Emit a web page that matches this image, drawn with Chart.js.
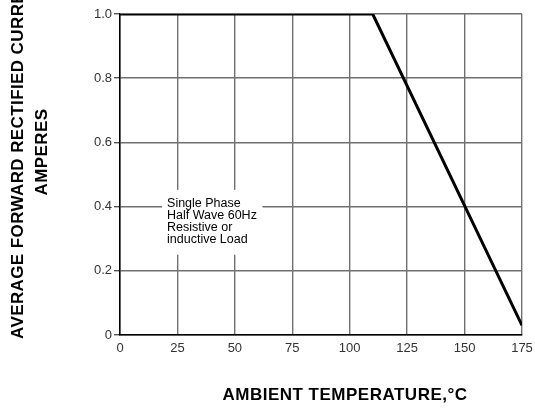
<!DOCTYPE html>
<html>
<head>
<meta charset="utf-8">
<script src="https://cdn.jsdelivr.net/npm/chart.js@4/dist/chart.umd.min.js"></script>
<style>
  html, body { margin: 0; padding: 0; background: #fff; }
  canvas { display: block; }
</style>
</head>
<body>
<canvas id="c" width="535" height="408"></canvas>
<script>
// ---- Data ----
const temperatures = [0, 110, 175];          // Ambient temperature, °C
const currents     = [1.0, 1.0, 0.03];       // Average forward rectified current, A
const xTickLabels  = ['0', '25', '50', '75', '100', '125', '150', '175'];
const yTickLabels  = ['0', '0.2', '0.4', '0.6', '0.8', '1.0'];
const yTitleLines  = ['AVERAGE FORWARD RECTIFIED CURRENT,', 'AMPERES'];
const xTitle       = 'AMBIENT TEMPERATURE,°C';
const noteLines    = ['Single Phase', 'Half Wave 60Hz', 'Resistive or', 'inductive Load'];

const FONT = '"Liberation Sans", Arial, sans-serif';

const textPlugin = {
  id: 'texts',
  afterDraw(chart) {
    const ctx = chart.ctx;
    const xs = chart.scales.x, ys = chart.scales.y;
    // note box
    const bx0 = xs.getPixelForValue(18.3), bx1 = xs.getPixelForValue(62);
    const by0 = ys.getPixelForValue(0.452), by1 = ys.getPixelForValue(0.25);
    ctx.save();
    ctx.fillStyle = '#fff';
    ctx.fillRect(bx0, by0, bx1 - bx0, by1 - by0);
    ctx.fillStyle = '#000';
    ctx.font = '12.5px ' + FONT;
    ctx.textAlign = 'left';
    ctx.textBaseline = 'alphabetic';
    noteLines.forEach((t, i) => ctx.fillText(t, bx0 + 5, by0 + 17 + i * 12));
    ctx.restore();

    // y title
    ctx.save();
    ctx.fillStyle = '#000';
    ctx.font = 'bold 17px ' + FONT;
    ctx.textBaseline = 'alphabetic';
    try { ctx.letterSpacing = '0.4px'; } catch (e) {}
    ctx.save();
    ctx.translate(23, 339);
    ctx.rotate(-Math.PI / 2);
    ctx.textAlign = 'left';
    ctx.fillText(yTitleLines[0], 0, 0);
    ctx.restore();
    ctx.save();
    ctx.translate(46.5, 152);
    ctx.rotate(-Math.PI / 2);
    ctx.textAlign = 'center';
    ctx.fillText(yTitleLines[1], 0, 0);
    ctx.restore();
    // x title
    try { ctx.letterSpacing = '0.5px'; } catch (e) {}
    ctx.textAlign = 'center';
    ctx.fillText(xTitle, 345, 400);
    ctx.restore();
  }
};

new Chart(document.getElementById('c'), {
  type: 'line',
  data: {
    datasets: [{
      data: temperatures.map((t, i) => ({ x: t, y: currents[i] })),
      borderColor: '#000',
      borderWidth: 3,
      pointRadius: 0,
      tension: 0,
      fill: false
    }]
  },
  options: {
    responsive: false,
    animation: false,
    events: [],
    layout: { autoPadding: false, padding: { left: 0, top: 14, right: 13, bottom: 0 } },
    plugins: { legend: { display: false }, tooltip: { enabled: false } },
    scales: {
      x: {
        type: 'linear',
        min: 0, max: 175,
        afterFit: s => { s.height = 73; s.paddingLeft = 0; s.paddingRight = 0; },
        ticks: {
          stepSize: 25,
          padding: 6,
          color: '#333',
          font: { family: FONT, size: 13 },
          callback: (v, i) => xTickLabels[i]
        },
        grid: { color: '#707070', lineWidth: 1.4, drawTicks: false },
        border: { color: '#000', width: 1.5 }
      },
      y: {
        min: 0, max: 1,
        afterFit: s => { s.width = 120; s.paddingTop = 0; s.paddingBottom = 0; },
        ticks: {
          stepSize: 0.2,
          padding: 2,
          color: '#333',
          font: { family: FONT, size: 13 },
          callback: (v, i) => yTickLabels[i]
        },
        grid: { color: '#707070', lineWidth: 1.4, drawTicks: true, tickLength: 6, tickColor: '#555' },
        border: { color: '#000', width: 1.5 }
      }
    }
  },
  plugins: [textPlugin]
});
</script>
</body>
</html>
